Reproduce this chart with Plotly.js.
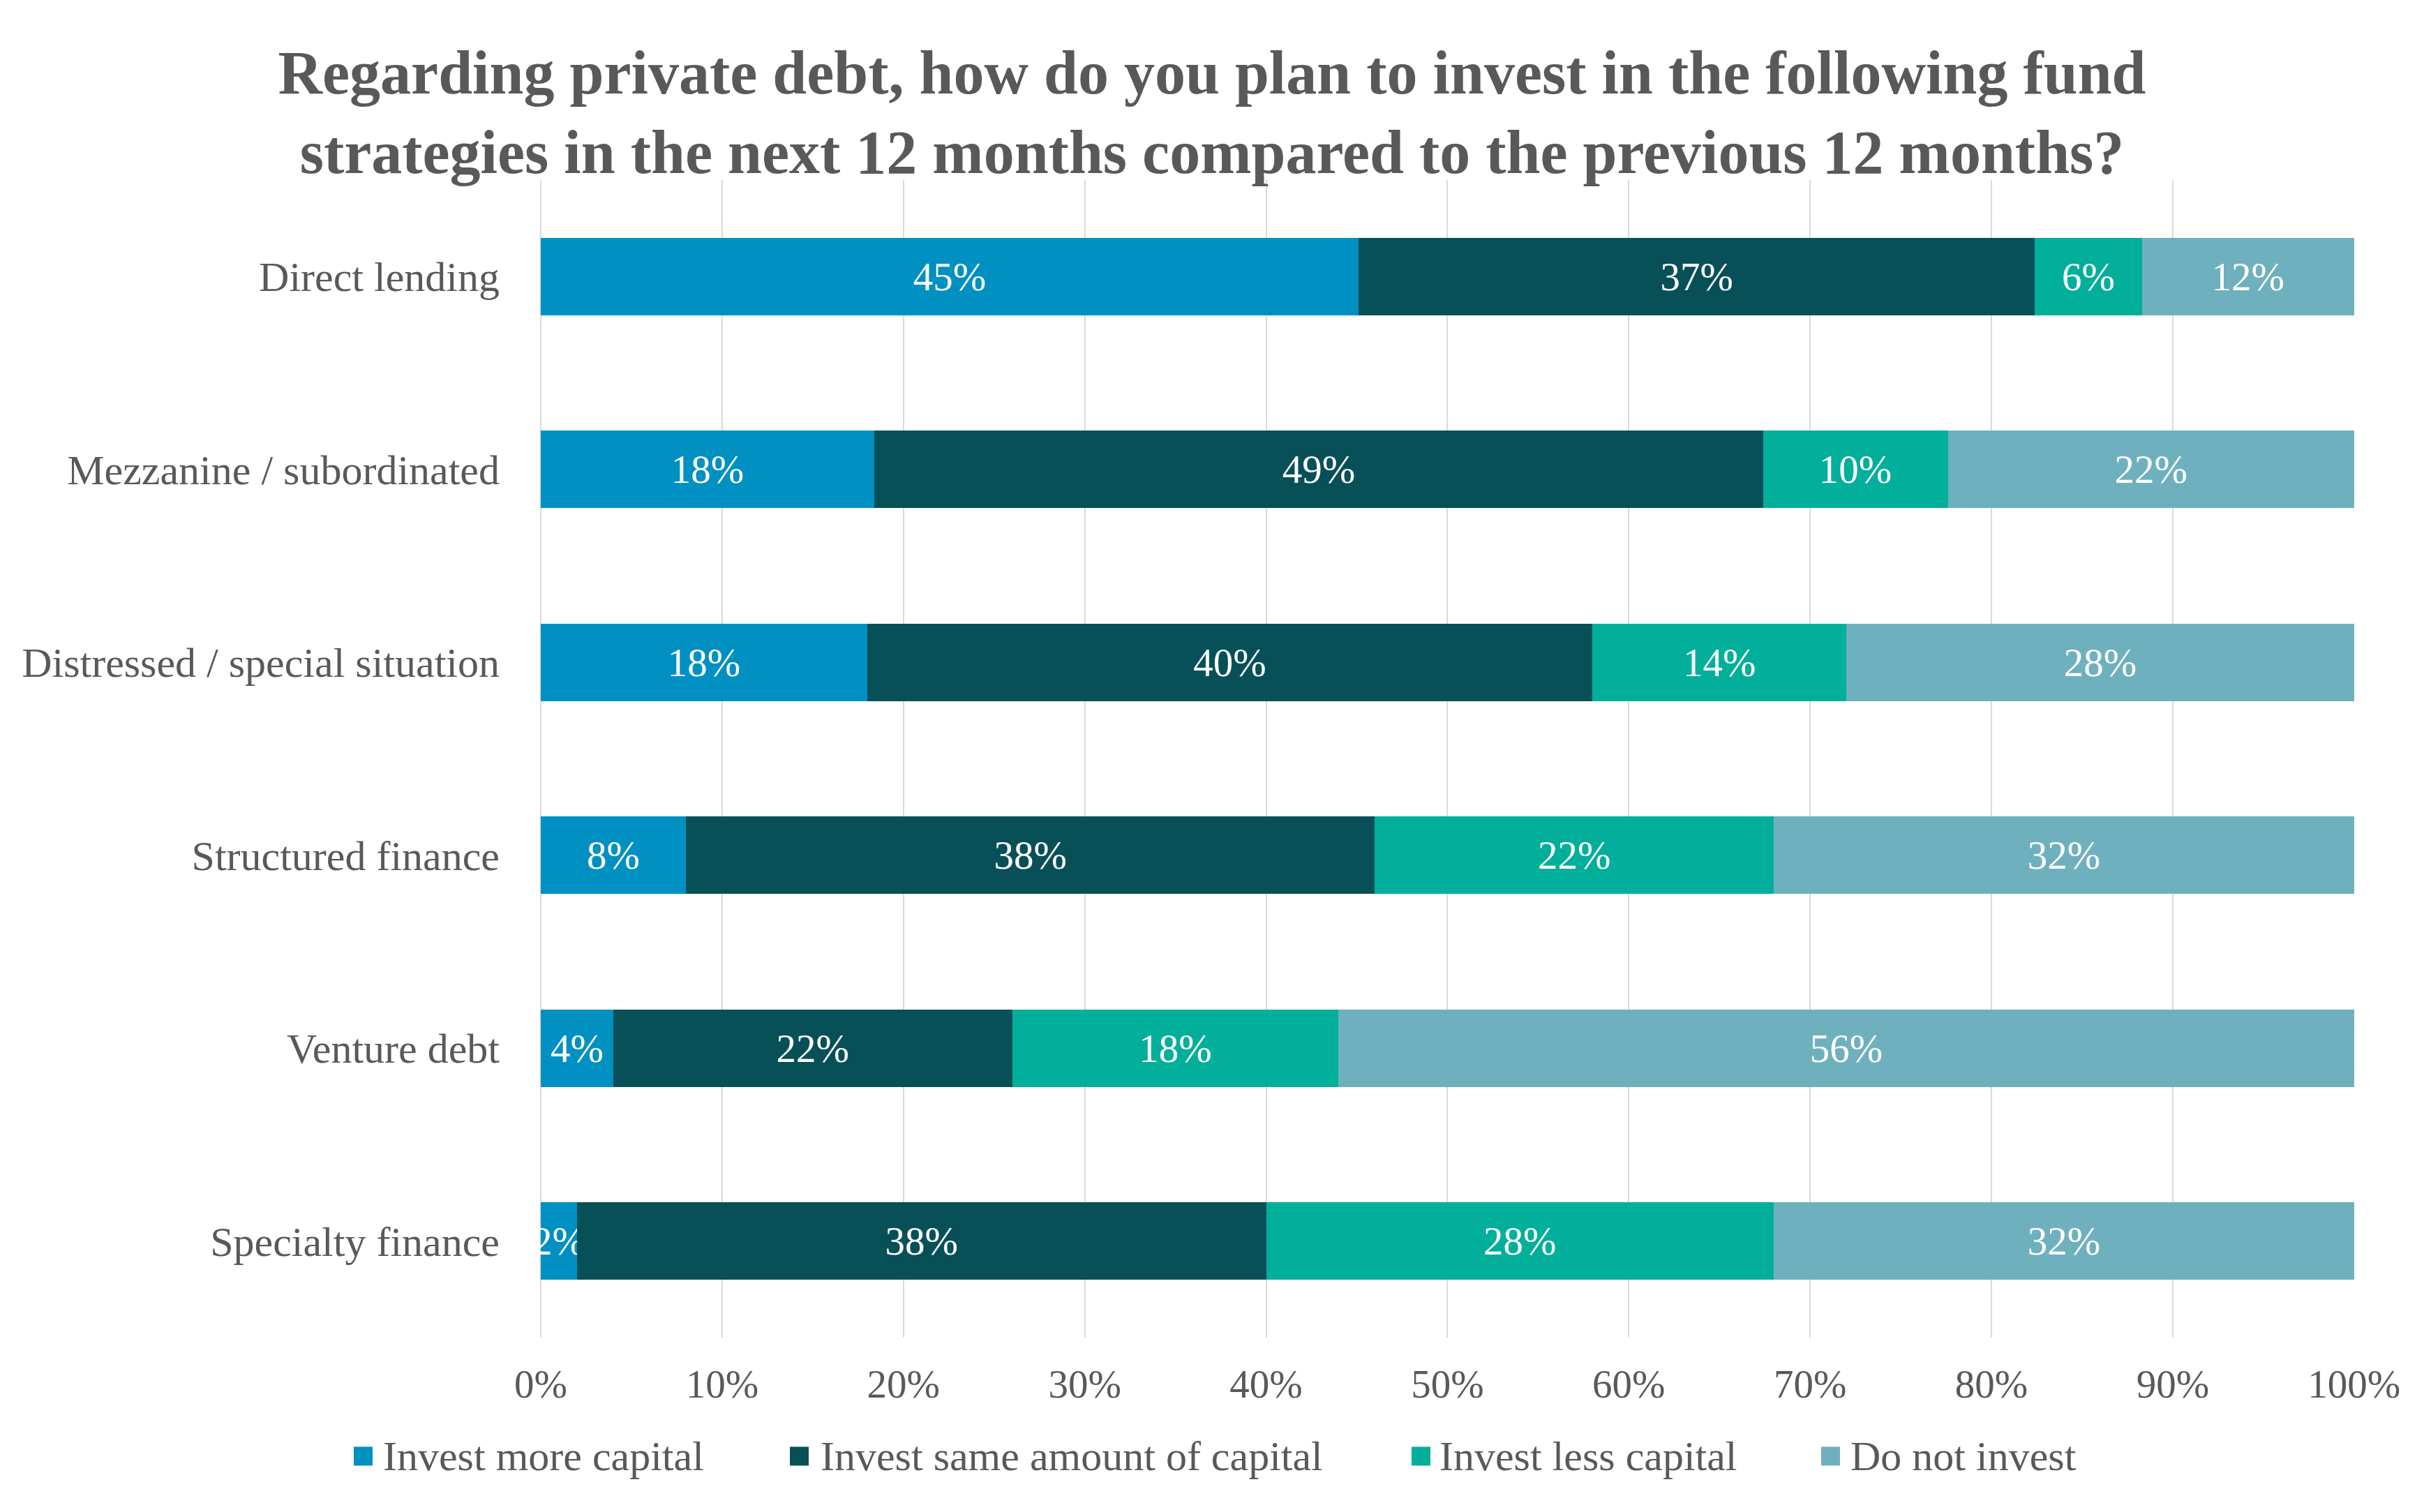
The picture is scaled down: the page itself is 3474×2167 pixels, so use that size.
<!DOCTYPE html>
<html>
<head>
<meta charset="utf-8">
<script src="https://cdn.plot.ly/plotly-3.0.1.min.js"></script>
<style>html,body{margin:0;padding:0;background:#fff;}#chart{width:3474px;height:2167px;}</style>
</head>
<body>
<div id="chart"></div>
<script>
// ---- data ----
const categories = ["Direct lending", "Mezzanine / subordinated", "Distressed / special situation", "Structured finance", "Venture debt", "Specialty finance"];
const seriesNames = ["Invest more capital", "Invest same amount of capital", "Invest less capital", "Do not invest"];
const investMore = [45.1, 18.4, 18, 8, 4, 2];
const investSame = [37.3, 49.0, 40, 38, 22, 38];
const investLess = [5.9, 10.2, 14, 22, 18, 28];
const doNotInvest = [11.7, 22.4, 28, 32, 56, 32];
const xTickValues = [0, 10, 20, 30, 40, 50, 60, 70, 80, 90, 100];
const xTickLabels = ["0%", "10%", "20%", "30%", "40%", "50%", "60%", "70%", "80%", "90%", "100%"];
const titleText = "Regarding private debt, how do you plan to invest in the following fund<br>strategies in the next 12 months compared to the previous 12 months?";

// ---- styling ----
const W = 3474, H = 2167;
const M = {l: 775, r: 100, t: 258, b: 250};
const FONT = "'Liberation Serif', 'Times New Roman', serif";
const GREY = "#595959";
const colors = ["#0090C1", "#085058", "#02AF9A", "#6FB0BE"];
const seriesValues = [investMore, investSame, investLess, doNotInvest];

const px2x = p => (p - M.l) / (W - M.l - M.r);
const py2y = p => (H - M.b - p) / (H - M.t - M.b);

const traces = seriesValues.map((vals, i) => ({
  type: "bar",
  orientation: "h",
  name: seriesNames[i],
  y: categories,
  x: vals,
  text: vals.map(v => Math.round(v) + "%"),
  textposition: "inside",
  insidetextanchor: "middle",
  textangle: 0,
  constraintext: "none",
  cliponaxis: false,
  textfont: {family: FONT, size: 57, color: "#ffffff"},
  marker: {color: colors[i], line: {width: 0}},
  showlegend: false,
  hoverinfo: "skip"
}));

// manual legend (positions only; names/colours from the arrays above)
const legendSquareX = [507, 1132, 2023, 2610];
const legendTextX = [547, 1174, 2061, 2650];
const legendY = 2087, sq = 27;
const shapes = seriesNames.map((n, i) => ({
  type: "rect", xref: "paper", yref: "paper",
  x0: px2x(legendSquareX[i]), x1: px2x(legendSquareX[i] + sq),
  y0: py2y(legendY + sq / 2), y1: py2y(legendY - sq / 2),
  fillcolor: colors[i], line: {width: 0}
}));
const annotations = seriesNames.map((n, i) => ({
  text: n, xref: "paper", yref: "paper",
  x: px2x(legendTextX[i]), y: py2y(legendY),
  xanchor: "left", yanchor: "middle", showarrow: false,
  font: {family: FONT, size: 60, color: GREY}
}));

const layout = {
  width: W, height: H,
  margin: M,
  paper_bgcolor: "#ffffff", plot_bgcolor: "#ffffff",
  barmode: "stack",
  bargap: 0.6,
  font: {family: FONT, color: GREY},
  title: {
    text: titleText,
    font: {family: FONT, size: 88, color: GREY, weight: "bold"},
    x: 0.5, xanchor: "center",
    y: 1 - 134 / H, yanchor: "middle", yref: "container"
  },
  xaxis: {
    range: [0, 100.01],
    tickmode: "array", tickvals: xTickValues, ticktext: xTickLabels,
    showgrid: true, gridcolor: "#d9d9d9", gridwidth: 2,
    zeroline: true, zerolinecolor: "#d9d9d9", zerolinewidth: 2,
    showline: false, ticks: "",
    ticklabelstandoff: 28,
    tickfont: {family: FONT, size: 57, color: GREY},
    fixedrange: true
  },
  yaxis: {
    type: "category",
    categoryorder: "array", categoryarray: categories,
    range: [5.5, -0.5],
    showgrid: false, zeroline: false, showline: false, ticks: "",
    ticklabelstandoff: 58,
    tickfont: {family: FONT, size: 60, color: GREY},
    fixedrange: true
  },
  shapes: shapes,
  annotations: annotations,
  showlegend: false
};

Plotly.newPlot("chart", traces, layout, {displayModeBar: false, staticPlot: true});
</script>
</body>
</html>
